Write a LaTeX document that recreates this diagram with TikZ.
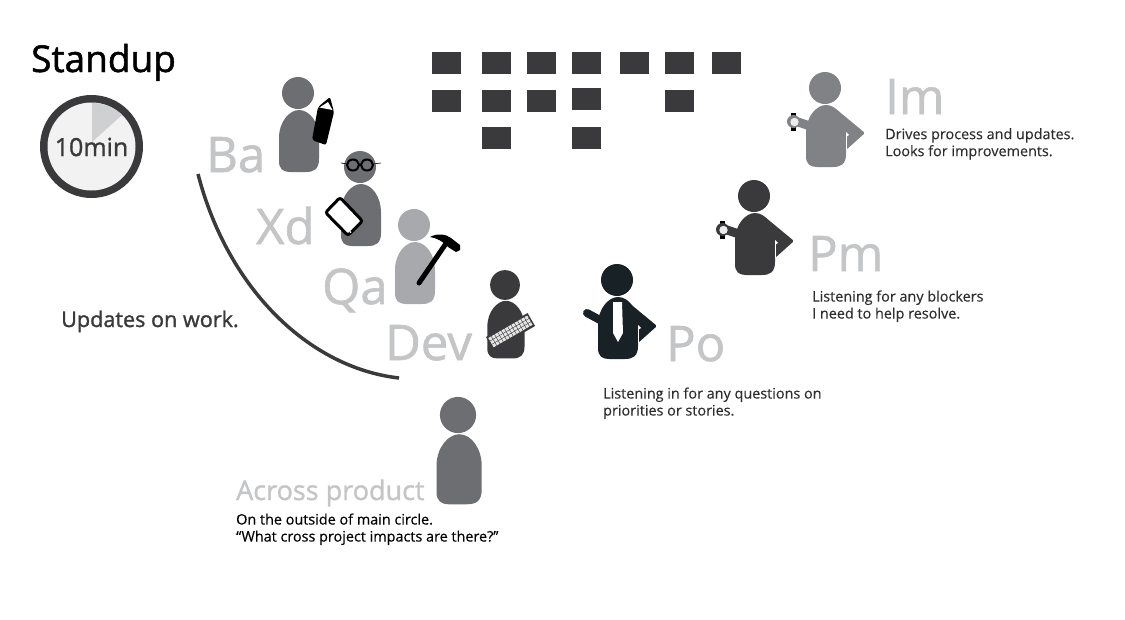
\documentclass[tikz,border=0pt]{standalone}
\usepackage{fontspec}
\setmainfont{Open Sans}
\newfontfamily\semifont{Open Sans}[FakeBold=1.3]
\newfontfamily\midfont{Open Sans}[FakeBold=0.3]
\usepackage{xcolor}
\usetikzlibrary{positioning}
\definecolor{inkdark}{HTML}{3A3A3C}
\definecolor{inkmid}{HTML}{6D6E71}
\definecolor{inkim}{HTML}{808285}
\definecolor{inkqa}{HTML}{A7A9AC}
\definecolor{inkpo}{HTML}{182125}
\definecolor{rolegray}{HTML}{C4C5C7}
\definecolor{wedgegray}{HTML}{CFD0D2}
\tikzstyle{card} = [rectangle, minimum width=29pt, minimum height=22pt, inner sep=0pt, anchor=north west, fill=inkdark]
\tikzstyle{role} = [anchor=base west, inner sep=0pt, text=rolegray, font=\semifont\fontsize{49}{49}\selectfont]
\tikzstyle{note} = [anchor=north west, inner sep=0pt, align=left, text=inkdark!80!black, font=\midfont\fontsize{14.4}{17}\selectfont]
\newcommand{\personshape}[4]{%
  \begin{scope}[shift={(#1,#2)}, scale=#3]
    \fill [#4] (0,0) circle (16);
    \fill [#4] (-19,68) -- (-19,45) .. controls (-19,28) and (-8,17) .. (1,17) .. controls (12,17) and (21,30) .. (21,45) -- (21,66) .. controls (21,76) and (16,79) .. (8,79) -- (-8,79) .. controls (-15,79) and (-19,76) .. (-19,68) -- cycle;
  \end{scope}}
\newcommand{\elbowarm}[3]{%
  \begin{scope}[shift={(#1,#2)}]
    \fill [#3, rounded corners=1.5pt] (11,21) -- (40,45) -- (21,62) -- (15,40) -- cycle;
    \draw [white, line width=0.6pt] (21,62) -- (21,46);
    \fill [white] (21,44) -- (24,47) -- (21,49) -- cycle;
  \end{scope}}
\newcommand{\watcharm}[3]{%
  \begin{scope}[shift={(#1,#2)}]
    \draw [#3, line width=9pt] (-15,38) -- (-30,33);
    \fill [black] (-34,25) rectangle (-29,29);
    \fill [black] (-34,39) rectangle (-29,43);
    \fill [#3] (-31.5,33.5) circle (6.5);
    \fill [white!92!black] (-30.5,34) circle (4.2);
  \end{scope}}
\begin{document}
\begin{tikzpicture}[x=1pt, y=-1pt]
\useasboundingbox (0,0) rectangle (1125,619);

% Title and timer
\node (title) [anchor=base west, inner sep=0pt, font=\semifont\fontsize{37}{37}\selectfont] at (31,72) {Standup};
\fill [inkdark] (91.5,146.5) circle (51.5);
\fill [white!95!black] (91.5,146.5) circle (44);
\fill [wedgegray] (92,142) -- (92,103) .. controls (103,103) and (114,107) .. (122,115) -- cycle;
\node (timer) [inner sep=0pt, text=inkdark, font=\semifont\fontsize{25}{25}\selectfont] at (91.5,147) {10min};

% Board
\node (c1) [card] at (432,52) {};
\node (c2) [card] at (482,52) {};
\node (c3) [card] at (527,52) {};
\node (c4) [card] at (572,52) {};
\node (c5) [card] at (620,52) {};
\node (c6) [card] at (665,52) {};
\node (c7) [card] at (712,52) {};
\node (c8) [card] at (432,90) {};
\node (c9) [card] at (482,90) {};
\node (c10) [card] at (527,90) {};
\node (c11) [card] at (572,88) {};
\node (c12) [card] at (665,90) {};
\node (c13) [card] at (482,127) {};
\node (c14) [card] at (572,127) {};

% Main circle
\draw [inkdark, line width=3.5pt] (198,174) .. controls (228,290) and (310,368) .. (399,378);

% Ba
\personshape{298}{93}{1}{inkmid}
\fill [black, rounded corners=2pt] (312,140) -- (326,145) -- (334,112) -- (330,97) -- (318,107) -- cycle;
\fill [white] (319.5,107.5) -- (328,102) -- (332.5,110) -- cycle;
\node (ba) [role] at (206,172) {Ba};

% Xd
\personshape{360}{167}{1}{inkmid}
\draw [black, line width=2pt] (353,165) ellipse (6 and 5.5) (367,165) ellipse (6 and 5.5);
\draw [black, line width=0.6pt] (341,163) -- (347,164) (359,164) -- (361,164) (373,164) -- (381,163);
\draw [black, line width=3pt, fill=white, rounded corners=2.5pt] (340,197.5) -- (325.5,212.5) -- (348,235.5) -- (362.5,221) -- cycle;
\fill [white] (350.5,232) circle (1);
\node (xd) [role] at (256,244) {Xd};

% Qa
\personshape{414}{225}{1}{inkqa}
\draw [black, line width=5pt, line cap=round] (419,283) -- (447,242);
\fill [black] (430,237) .. controls (437,233) and (446,234) .. (451,238) -- (460,245) -- (460,250) -- (456,252) -- (448,247) .. controls (444,242) and (437,238) .. (430,237) -- cycle;
\node (qa) [role] at (322,304) {Qa};

% Dev
\personshape{505}{285}{0.93}{inkdark}
\begin{scope}[shift={(486,337)}, rotate=30]
  \fill [inkdark] (0,0) rectangle (48,15);
  \foreach \kx in {0,...,11} {
    \foreach \ky in {0,...,2} {
      \fill [white!90!black] (1.5+3.8*\kx,2+3.8*\ky) rectangle (4.6+3.8*\kx,5.1+3.8*\ky);
    }
  }
\end{scope}
\node (dev) [role] at (385,360) {Dev};

% Po
\personshape{617}{280}{1}{inkpo}
\elbowarm{617}{281}{inkpo}
\draw [inkpo, line width=8pt, line cap=round] (600,320) -- (587,313);
\fill [white] (613,302) -- (622,302) -- (623,333) -- (618,342) -- (613,333) -- cycle;
\node (po) [role] at (666,361) {Po};

% Pm
\personshape{754}{196}{1}{inkdark}
\elbowarm{754}{196}{inkdark}
\watcharm{754}{196}{inkdark}
\node (pm) [role] at (808,271) {Pm};

% Im
\personshape{825}{88}{1}{inkim}
\elbowarm{825}{88}{inkim}
\watcharm{825}{88}{inkim}
\node (im) [role] at (885,114) {Im};

% Across product
\personshape{458}{415}{1.13}{inkmid}
\node (across) [anchor=base west, inner sep=0pt, text=rolegray, font=\semifont\fontsize{27}{27}\selectfont] at (236,500) {Across product};

% Notes
\node (updates) [anchor=base west, inner sep=0pt, text=inkdark, font=\semifont\fontsize{21.6}{21.6}\selectfont] at (61,327) {Updates on work.};
\node (imnote) [note] at (885,128) {Drives process and updates.\\Looks for improvements.};
\node (pmnote) [note] at (812,290.3) {Listening for any blockers\\I need to help resolve.};
\node (ponote) [note] at (603,387.3) {Listening in for any questions on\\priorities or stories.};
\node (acrossnote) [note, text=black] at (236,513.3) {On the outside of main circle.\\“What cross project impacts are there?”};

\end{tikzpicture}
\end{document}
